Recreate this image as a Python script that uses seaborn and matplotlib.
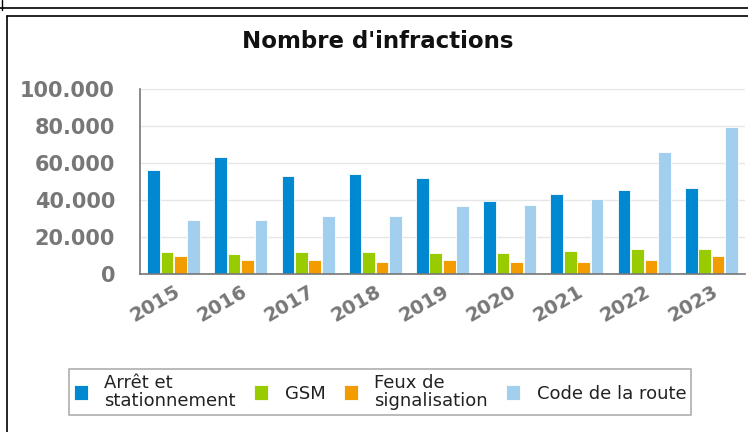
import numpy as np
import pandas as pd
import matplotlib.pyplot as plt
import matplotlib.ticker as mticker
from matplotlib.lines import Line2D
import seaborn as sns

years = ["2015", "2016", "2017", "2018", "2019", "2020", "2021", "2022", "2023"]
arret = [56000, 63300, 53000, 54000, 51800, 39500, 43500, 45500, 46500]
gsm = [11800, 10800, 11800, 11800, 11500, 11300, 12300, 13500, 13500]
feux = [9800, 7800, 7800, 6600, 7500, 6500, 6600, 7600, 9500]
code = [29200, 29200, 31400, 31400, 36500, 37300, 40300, 66200, 79500]
series = ["Arrêt et\nstationnement", "GSM", "Feux de\nsignalisation", "Code de la route"]
colors = ["#0089d1", "#99cc00", "#f39c00", "#a3cfee"]

df = pd.DataFrame({"year": years, series[0]: arret, series[1]: gsm,
                   series[2]: feux, series[3]: code})
long = df.melt(id_vars="year", var_name="serie", value_name="n")

sns.set_style("white")
plt.rcParams['font.family'] = ['DejaVu Sans']

fig = plt.figure(figsize=(7.48, 4.32), dpi=100)
ax = fig.add_axes([140 / 748, 1 - 274 / 432, 605 / 748, 185 / 432])

sns.barplot(data=long, x="year", y="n", hue="serie", palette=colors, saturation=1,
            width=0.8, gap=0.05, ax=ax, edgecolor="white", linewidth=0.6,
            legend=True)

ax.set_ylim(0, 100000)
ax.set_xlim(-0.5, len(years) - 0.5)
ax.set_yticks(range(0, 100001, 20000))
ax.yaxis.set_major_formatter(mticker.FuncFormatter(lambda v, p: f"{int(v):,}".replace(",", ".")))
ax.yaxis.grid(True, color="#e6e6e6", linewidth=1)
ax.set_axisbelow(True)
ax.set_xlabel("")
ax.set_ylabel("")

# ticks between groups
ax.set_xticks(np.arange(-0.5, len(years), 1.0), minor=False)
ax.set_xticklabels([])
ax.set_xticks(np.arange(len(years)), minor=True)
ax.set_xticklabels(years, minor=True, rotation=30, ha="right", rotation_mode="anchor",
                   fontsize=14, fontweight="bold", color="#777777")
ax.tick_params(axis="x", which="major", length=5, width=1, color="#777777", direction="out")
ax.tick_params(axis="x", which="minor", length=0, pad=6)
ax.tick_params(axis="y", length=9, width=1, color="#777777", labelsize=15,
               labelcolor="#777777", pad=9)
for t in ax.get_yticklabels():
    t.set_fontweight("bold")

for s in ["top", "right"]:
    ax.spines[s].set_visible(False)
for s in ["left", "bottom"]:
    ax.spines[s].set_color("#777777")
    ax.spines[s].set_linewidth(1.2)

ax.legend_.remove()
handles, labels = ax.get_legend_handles_labels()
leg = fig.legend(handles[:4], labels[:4], ncol=4, loc="center",
                 bbox_to_anchor=(380 / 748, 1 - 392 / 432), frameon=True,
                 fancybox=False, edgecolor="#999999", fontsize=13,
                 handlelength=0.8, handleheight=0.9, handletextpad=0.9,
                 columnspacing=1.0, borderpad=0.25, borderaxespad=0)
leg.get_frame().set_linewidth(1.2)
for t in leg.get_texts():
    t.set_color("#222222")
    t.set_linespacing(1.0)

fig.text(378 / 748, 1 - 42 / 432, "Nombre d'infractions", ha="center", va="center",
         fontsize=16.5, fontweight="bold", color="#111111")

# page borders
fig.add_artist(Line2D([0, 1], [1 - 8 / 432] * 2, color="black", linewidth=1.2))
fig.add_artist(Line2D([2 / 748] * 2, [1, 1 - 10 / 432], color="black", linewidth=1))
fig.add_artist(Line2D([7 / 748, 1], [1 - 15.5 / 432] * 2, color="black", linewidth=1.2))
fig.add_artist(Line2D([7 / 748] * 2, [1 - 15.5 / 432, 0], color="black", linewidth=1.2))

fig.savefig("out.png", dpi=100)
